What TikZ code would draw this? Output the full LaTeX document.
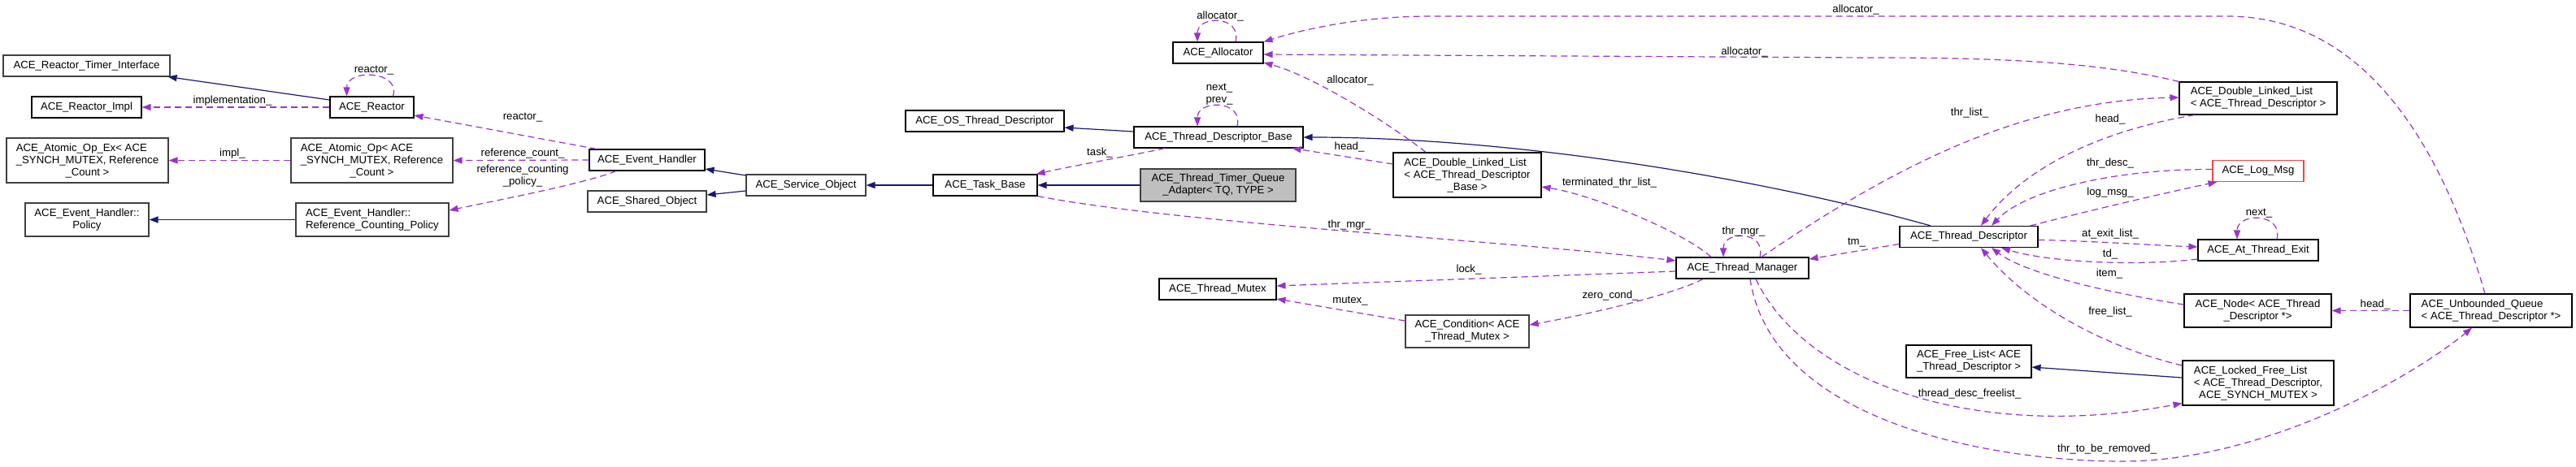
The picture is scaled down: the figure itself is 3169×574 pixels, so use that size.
\documentclass[tikz,border=0pt]{standalone}
\usepackage{fontspec}
\setmainfont{Liberation Sans}
\usetikzlibrary{arrows.meta}
\definecolor{inhc}{HTML}{191970}
\definecolor{usec}{HTML}{9A32CD}
\definecolor{gbord}{HTML}{404040}
\begin{document}
\begin{tikzpicture}[x=1pt,y=-1pt,
  txt/.style={font=\fontsize{13.2}{15}\selectfont},
  box/.style={txt, draw=black, line width=1.1pt, fill=white, inner sep=0pt, minimum height=26pt, align=center},
  gbox/.style={box, draw=gbord},
  lbox/.style={box, align=left},
  lab/.style={txt, inner sep=0pt, align=center},
  inh/.style={draw=inhc, line width=1.2pt, -{Triangle[length=11pt,width=8pt]}},
  use/.style={draw=usec, line width=1.2pt, dash pattern=on 8pt off 5pt, -{Triangle[length=11pt,width=8pt]}}
]
\useasboundingbox (0,0) rectangle (3169,574);

% ---------- nodes ----------
\node[gbox, minimum width=205pt] (rti) at (106.5,81) {ACE\_Reactor\_Timer\_Interface};
\node[box, minimum width=135pt] (rimpl) at (106.5,132) {ACE\_Reactor\_Impl};
\node[gbox, minimum width=199pt, minimum height=55pt] (aopex) at (107.5,197.5)
  {\begin{tabular}[b]{@{}l@{}}ACE\_Atomic\_Op\_Ex< ACE\\\_SYNCH\_MUTEX, Reference\end{tabular}\\\_Count >};
\node[gbox, minimum width=152pt, minimum height=41pt] (policy) at (107,270.5) {ACE\_Event\_Handler::\\Policy};
\node[box, minimum width=103pt] (reactor) at (457.5,132) {ACE\_Reactor};
\node[gbox, minimum width=199pt, minimum height=55pt] (aop) at (457.5,197.5)
  {\begin{tabular}[b]{@{}l@{}}ACE\_Atomic\_Op< ACE\\\_SYNCH\_MUTEX, Reference\end{tabular}\\\_Count >};
\node[gbox, minimum width=188pt, minimum height=41pt, align=left] (rcp) at (458,270.5) {ACE\_Event\_Handler::\\Reference\_Counting\_Policy};
\node[box, minimum width=142pt] (eh) at (796,197) {ACE\_Event\_Handler};
\node[gbox, minimum width=146pt] (shobj) at (796,248) {ACE\_Shared\_Object};
\node[gbox, minimum width=147pt] (svc) at (991.5,228) {ACE\_Service\_Object};
\node[box, minimum width=128pt] (task) at (1212,228) {ACE\_Task\_Base};
\node[box, minimum width=195pt] (ostd) at (1211.5,149) {ACE\_OS\_Thread\_Descriptor};
\node[box, minimum width=111pt] (alloc) at (1498.5,65) {ACE\_Allocator};
\node[box, minimum width=208pt] (tdb) at (1499,169) {ACE\_Thread\_Descriptor\_Base};
\node[gbox, fill={rgb,255:red,191;green,191;blue,191}, minimum width=191pt, minimum height=40pt] (ttqa) at (1498.5,228)
  {ACE\_Thread\_Timer\_Queue\\\_Adapter< TQ, TYPE >};
\node[box, minimum width=182pt, minimum height=55pt] (dllb) at (1805,215.5)
  {\begin{tabular}[b]{@{}l@{}}ACE\_Double\_Linked\_List\\< ACE\_Thread\_Descriptor\end{tabular}\\\_Base >};
\node[box, minimum width=144pt] (mutex) at (1498,356) {ACE\_Thread\_Mutex};
\node[gbox, minimum width=152pt, minimum height=40pt] (cond) at (1805,408) {ACE\_Condition< ACE\\\_Thread\_Mutex >};
\node[box, minimum width=163pt] (tm) at (2143.5,330) {ACE\_Thread\_Manager};
\node[box, minimum width=170pt] (td) at (2422,291.5) {ACE\_Thread\_Descriptor};
\node[lbox, minimum width=154pt, minimum height=40pt] (freel) at (2422,445) {ACE\_Free\_List< ACE\\\_Thread\_Descriptor >};
\node[lbox, minimum width=194pt, minimum height=40pt] (dlltd) at (2778,121) {ACE\_Double\_Linked\_List\\< ACE\_Thread\_Descriptor >};
\node[box, draw={rgb,255:red,240;green,70;blue,70}, minimum width=112pt] (logmsg) at (2778,210.5) {ACE\_Log\_Msg};
\node[box, minimum width=148pt] (atexit) at (2778,308) {ACE\_At\_Thread\_Exit};
\node[box, minimum width=181pt, minimum height=41pt] (node) at (2777.5,382.5) {ACE\_Node< ACE\_Thread\\\_Descriptor *>};
\node[lbox, minimum width=199pt, minimum height=41pt] (uq) at (3064.5,382.5) {ACE\_Unbounded\_Queue\\< ACE\_Thread\_Descriptor *>};
\node[box, minimum width=186pt, minimum height=55pt] (lfl) at (2778,471.5)
  {\begin{tabular}[b]{@{}l@{}}ACE\_Locked\_Free\_List\\< ACE\_Thread\_Descriptor,\end{tabular}\\ACE\_SYNCH\_MUTEX >};

% ---------- inheritance ----------
\draw[inh] ([yshift=9pt]reactor.west) -- ([xshift=-3pt]rti.south east);
\draw[inh] (rcp.west) -- (policy.east);
\draw[inh] ([yshift=12pt]svc.west) -- ([yshift=-11pt]eh.east);
\draw[inh] ([yshift=-7pt]svc.west) -- ([yshift=8pt]shobj.east);
\draw[inh] (task.west) -- (svc.east);
\draw[inh] (ttqa.west) -- (task.east);
\draw[inh] ([yshift=7pt]tdb.west) -- ([yshift=-8pt]ostd.east);
\draw[inh] ([xshift=-47pt]td.north) .. controls (2150,215) and (1850,169) .. (tdb.east);
\draw[inh] ([yshift=6.5pt]lfl.west) -- ([yshift=-7pt]freel.east);

% ---------- usage ----------
\draw[use] (reactor.west) -- (rimpl.east);
\draw[use] ([xshift=26pt]reactor.north) .. controls +(10,-32) and +(0,-34) .. ([xshift=-31pt]reactor.north);
\draw[use] ([xshift=-62pt]eh.north) -- ([yshift=-10pt]reactor.east);
\draw[use] (aop.west) -- (aopex.east);
\draw[use] (eh.west) -- (aop.east);
\draw[use] ([xshift=-38pt]eh.south) .. controls (720,226) and (600,249) .. ([yshift=11.5pt]rcp.east);
\draw[use] ([xshift=-66pt]tdb.south) .. controls (1400,190) and (1320,204) .. ([xshift=-2pt]task.north east);
\draw[use] ([xshift=23pt]tdb.north) .. controls +(8,-33) and +(0,-33) .. ([xshift=-26pt]tdb.north);
\draw[use] (task.south east) .. controls (1450,275) and (1850,296) .. ([yshift=9pt]tm.west);
\draw[use] ([xshift=21.5pt]alloc.north) .. controls +(8,-33) and +(0,-33) .. ([xshift=-25.5pt]alloc.north);
\draw[use] ([xshift=-51pt]dllb.north) .. controls (1720,160) and (1620,95) .. ([yshift=-12pt]alloc.east);
\draw[use] ([yshift=13.5pt]dllb.west) -- ([xshift=-14pt]tdb.south east);
\draw[use] ([xshift=-38.5pt]tm.north) .. controls (2070,285) and (1960,240) .. ([yshift=-14.5pt]dllb.east);
\draw[use] ([yshift=-4pt]tm.west) -- ([yshift=4pt]mutex.east);
\draw[use] ([yshift=13pt]cond.west) -- ([yshift=-12pt]mutex.east);
\draw[use] ([xshift=-48.5pt]tm.south) .. controls (2060,362) and (1960,386) .. ([yshift=8pt]cond.east);
\draw[use] ([xshift=21.5pt]tm.north) .. controls +(8,-33) and +(0,-33) .. ([xshift=-23.5pt]tm.north);
\draw[use] ([yshift=-9pt]td.west) -- ([yshift=11pt]tm.east);
\draw[use] ([xshift=23.5pt]tm.north) .. controls (2320,212) and (2480,124) .. ([yshift=1pt]dlltd.west);
\draw[use] (dlltd.north west) .. controls (2580,76) and (2460,71) .. (2300,71) -- ([yshift=-2pt]alloc.east);
\draw[use] ([xshift=-7.5pt]uq.north) .. controls (3010,200) and (2920,20) .. (2740,20) -- (1760,20) .. controls (1680,20) and (1610,34) .. (alloc.north east);
\draw[use] ([xshift=-78pt]dlltd.south) .. controls (2560,165) and (2480,220) .. ([xshift=15pt]td.north);
\draw[use] ([yshift=2pt]logmsg.west) .. controls (2600,208) and (2490,235) .. ([xshift=28pt]td.north);
\draw[use] ([xshift=-10pt]td.north east) .. controls (2560,262) and (2660,238) .. ([xshift=6pt]logmsg.south west);
\draw[use] ([yshift=-4pt]td.east) .. controls (2560,296) and (2650,302) .. ([yshift=4pt]atexit.west);
\draw[use] ([xshift=23pt]atexit.north) .. controls +(8,-33) and +(0,-33) .. ([xshift=-26pt]atexit.north);
\draw[use] ([yshift=-11pt]atexit.west) .. controls (2630,328) and (2520,323) .. ([xshift=40pt]td.south);
\draw[use] ([yshift=7.5pt]node.west) .. controls (2590,360) and (2490,336) .. ([xshift=28pt]td.south);
\draw[use] ([yshift=21.5pt]lfl.west) .. controls (2580,425) and (2490,370) .. ([xshift=15pt]td.south);
\draw[use] ([xshift=16.5pt]tm.south) .. controls (2220,470) and (2430,545) .. ([yshift=-25pt]lfl.west);
\draw[use] ([xshift=9.5pt]tm.south) .. controls (2180,520) and (2450,568) .. (2611,568) .. controls (2780,568) and (2960,470) .. ([xshift=-23.5pt]uq.south);
\draw[use] (uq.west) -- (node.east);

% ---------- labels ----------
\node[lab] (l1) at (460,87) {reactor\_};
\node[lab] (l2) at (286,124) {implementation\_};
\node[lab] (l3) at (643,145) {reactor\_};
\node[lab] (l4) at (286,189) {impl\_};
\node[lab] (l5) at (643,189) {reference\_count\_};
\node[lab] (l6) at (643,216.5) {reference\_counting\\\_policy\_};
\node[lab] (l7) at (1353,188) {task\_};
\node[lab] (l8) at (1501,20) {allocator\_};
\node[lab] (l9) at (1500,116.5) {next\_\\prev\_};
\node[lab] (l10) at (1661,99) {allocator\_};
\node[lab] (l11) at (1660,181) {head\_};
\node[lab] (l12) at (1980,225) {terminated\_thr\_list\_};
\node[lab] (l13) at (1660,277) {thr\_mgr\_};
\node[lab] (l14) at (1807,332) {lock\_};
\node[lab] (l15) at (1661,371) {mutex\_};
\node[lab] (l16) at (1981,364) {zero\_cond\_};
\node[lab] (l17) at (2283,12) {allocator\_};
\node[lab] (l18) at (2146,64) {allocator\_};
\node[lab] (l19) at (2423,139) {thr\_list\_};
\node[lab] (l20) at (2596,147) {head\_};
\node[lab] (l21) at (2596,201) {thr\_desc\_};
\node[lab] (l22) at (2596,237) {log\_msg\_};
\node[lab] (l23) at (2596,288) {at\_exit\_list\_};
\node[lab] (l24) at (2145,285) {thr\_mgr\_};
\node[lab] (l25) at (2284,299) {tm\_};
\node[lab] (l26) at (2596,313) {td\_};
\node[lab] (l27) at (2595,337) {item\_};
\node[lab] (l28) at (2596,384) {free\_list\_};
\node[lab] (l29) at (2423,485) {thread\_desc\_freelist\_};
\node[lab] (l30) at (2592,553) {thr\_to\_be\_removed\_};
\node[lab] (l31) at (2779,263) {next\_};
\node[lab] (l32) at (2922,375) {head\_};
\end{tikzpicture}
\end{document}
